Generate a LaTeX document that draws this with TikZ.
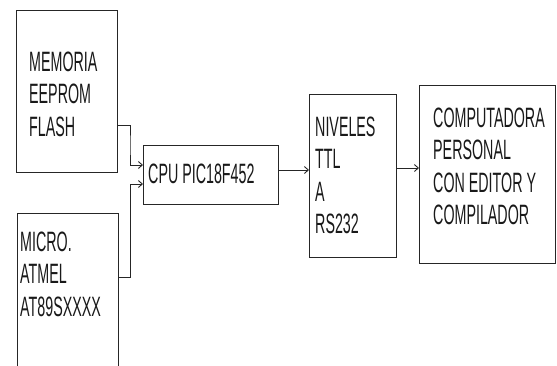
\documentclass[tikz,border=0pt]{standalone}
\usepackage{fontspec}
\setmainfont{Liberation Sans}
\usetikzlibrary{arrows.meta,calc}
\newcommand\nl[1]{\scalebox{0.51}[1]{#1}}
\begin{document}
\begin{tikzpicture}[x=1pt,y=-1pt,
  box/.style={draw=black!85, line width=0.9pt, inner sep=0pt, outer sep=0pt},
  txt/.style={anchor=base west, inner sep=0pt, align=left, text=black!90, font=\fontsize{28}{32.5}\selectfont},
  conn/.style={draw=black!85, line width=0.9pt, -{Straight Barb[length=4pt,width=7pt]}}]
\useasboundingbox (0,0) rectangle (557,365);
\clip (0,0) rectangle (557,365);
% boxes
\node[box, minimum width=101pt, minimum height=162pt] (mem) at (66.5,91) {};
\node[box, minimum width=135pt, minimum height=59pt] (cpu) at (210.5,174.5) {};
\node[box, minimum width=101pt, minimum height=187pt] (mic) at (67.5,306.5) {};
\node[box, minimum width=87pt, minimum height=163pt] (niv) at (352.5,175.5) {};
\node[box, minimum width=136pt, minimum height=178pt] (pc) at (487,174) {};
% texts (base anchor = baseline of the last line)
\node[txt] (tmem) at (29,136) {\nl{MEMORIA}\\\nl{EEPROM}\\\nl{FLASH}};
\node[txt] (tcpu) at (148,183) {\nl{CPU PIC18F452}};
\node[txt] (tmic) at (20,316) {\nl{MICRO.}\\\nl{ATMEL}\\\nl{AT89SXXXX}};
\node[txt] (tniv) at (315,233.5) {\nl{NIVELES}\\\nl{TTL}\\\nl{A}\\\nl{RS232}};
\node[txt] (tpc) at (433,224.5) {\nl{COMPUTADORA}\\\nl{PERSONAL}\\\nl{CON EDITOR Y}\\\nl{COMPILADOR}};
% connector end points
\coordinate (m1) at ($(mem.north east)+(0,115)$);
\coordinate (c1) at ($(cpu.north west)+(0,20)$);
\coordinate (m2) at ($(mic.north east)+(0,64)$);
\coordinate (c2) at ($(cpu.north west)+(0,39)$);
\draw[conn] (m1) -| ($(m1)!0.5!(c1)$) |- (c1);
\draw[conn] (m2) -| ($(m2)!0.5!(c2)$) |- (c2);
\draw[conn] (cpu.east |- 0,170) -- (niv.west |- 0,170);
\draw[conn] (niv.east |- 0,168) -- (pc.west |- 0,168);
\end{tikzpicture}
\end{document}
